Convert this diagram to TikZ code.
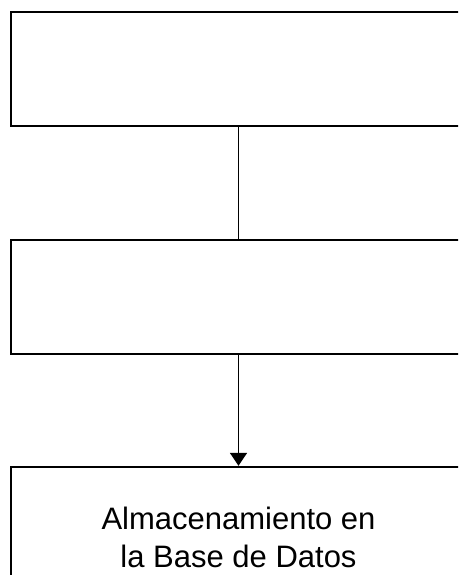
\documentclass[tikz,border=0pt]{standalone}
\usepackage{fontspec}
\setmainfont{Liberation Sans}
\usetikzlibrary{positioning,arrows.meta}

\tikzset{
  caja/.style={draw,line width=2.4pt,minimum width=455pt,inner sep=0pt,align=center},
  flecha/.style={line width=1.8pt}
}

\begin{document}
\begin{tikzpicture}[x=1pt,y=-1pt]
\useasboundingbox (0,0) rectangle (458,575);
\clip (0,0) rectangle (458,575);

% --- Cajas ---
\node[caja,minimum height=114pt] (b1) at (238.5,69) {};
\node[caja,minimum height=114pt] (b2) at (238.5,297) {};
\node[caja,minimum height=140pt,font=\fontsize{31}{38}\selectfont] (b3) at (238.5,537)
  {Almacenamiento en\\la Base de Datos};

% --- Conectores ---
\draw[flecha] (b1.south) -- (b2.north);
\draw[flecha,-{Triangle[length=13pt,width=17pt]}] (b2.south) -- (b3.north);

\end{tikzpicture}
\end{document}
